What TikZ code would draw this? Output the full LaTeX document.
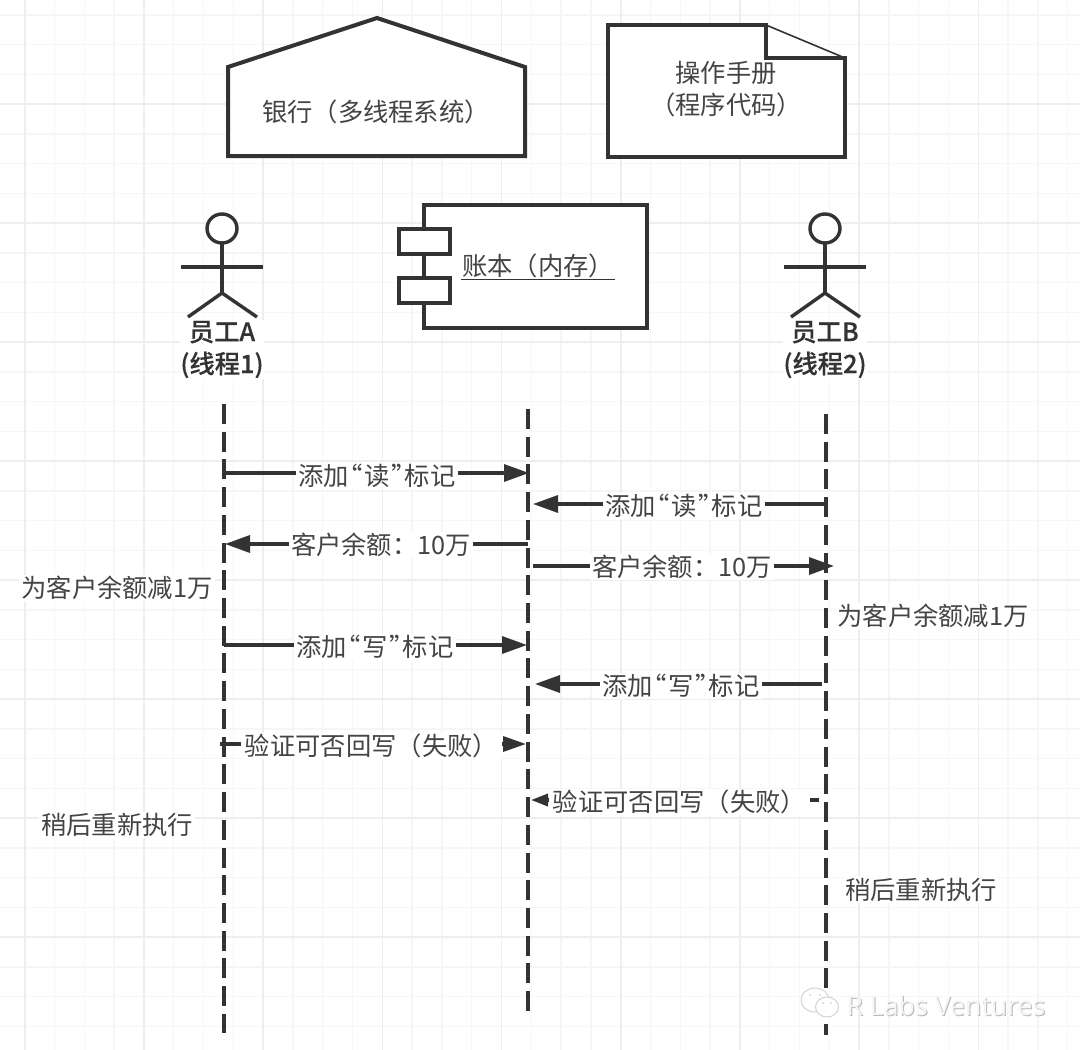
\documentclass[tikz,border=0pt]{standalone}
\usepackage{fontspec}
\usepackage{tikz}
\usetikzlibrary{arrows.meta, positioning}
\setmainfont{Noto Sans CJK SC}
\newfontfamily\medfont{Noto Sans CJK SC}[UprightFont=* Medium, FakeBold=0.4]
\newfontfamily\wmfont{Open Sans}
\newcommand{\quoted}[1]{\kern-.47em“\kern.07em#1\kern.07em”\kern-.47em}
\definecolor{ink}{RGB}{51,51,51}
\definecolor{txt}{RGB}{68,68,68}
\definecolor{gridmin}{RGB}{246,246,246}
\definecolor{gridmaj}{RGB}{238,238,238}
\tikzset{
  box/.style={draw=ink, line width=1mm, fill=white, line join=miter},
  limb/.style={draw=ink, line width=0.85mm},
  % linha de vida tracejada
  lane/.style={draw=ink, line width=1mm, dash pattern=on 5mm off 1.93mm},
  ar/.style={draw=ink, line width=0.85mm, -{Triangle[length=6.25mm, width=4.25mm]}},
  ar mid/.style={draw=ink, line width=0.85mm, -{Triangle[length=5.75mm, width=3.75mm]}},
  ar small/.style={draw=ink, line width=0.85mm, -{Triangle[length=4.25mm, width=3mm]}},
  lbl/.style={font=\fontsize{18}{22.8}\selectfont, text=txt, align=center, fill=white,
              inner xsep=0.6mm, inner ysep=0.3mm},
  actlbl/.style={lbl, font=\medfont\fontsize{18}{22.8}\selectfont, text=ink, inner xsep=0pt}
}
\begin{document}
\begin{tikzpicture}[x=0.25mm, y=-0.25mm]
  \useasboundingbox (0,0) rectangle (1080,1050);
  \foreach \i in {-3,...,35} {
    \draw[gridmin, line width=0.35mm] (24.7+29.8*\i,0) -- (24.7+29.8*\i,1050);
    \draw[gridmin, line width=0.35mm] (0,15+29.75*\i) -- (1080,15+29.75*\i);
  }
  \foreach \i in {0,...,8} \draw[gridmaj, line width=0.4mm] (24.7+119.2*\i,0) -- (24.7+119.2*\i,1050);
  \foreach \i in {0,...,7} \draw[gridmaj, line width=0.4mm] (0,104+119*\i) -- (1080,104+119*\i);

  \draw[box] (228,156) -- (525,156) -- (525,67) -- (377,18) -- (228,67) -- cycle;
  \node[lbl, fill=none] (bank) at (376,112) {银行（多线程系统）};

  \fill[white] (608,25) -- (766,25) -- (845,58) -- (845,157) -- (608,157) -- cycle;
  \draw[ink, line width=0.4mm] (766,25) -- (845,58);
  \draw[box, fill=none] (845,58) -- (845,157) -- (608,157) -- (608,25) -- (766,25) -- (766,58) -- cycle;
  \node[lbl, fill=none] (manual) at (726,89) {操作手册\\（程序代码）};

  \draw[box] (424,205) rectangle (647,328);
  \draw[box] (399,229) rectangle (450,254);
  \draw[box] (399,278) rectangle (450,303);
  \node[lbl, fill=none, inner xsep=0pt] (ledger) at (538,266) {账本（内存）};
  \draw[ink, line width=0.4mm] (461,279.5) -- (615,279.5);

  \foreach \name/\x/\lblA/\lblB in {actA/222/员工A/线程1, actB/825/员工B/线程2} {
    \draw[limb, fill=white] (\x,228.5) ellipse (15 and 14.5);
    \draw[limb] (\x,243) -- (\x,293);
    \draw[limb] (\x-41,267) -- (\x+41,267);
    \draw[limb] (\x-34,317) -- (\x,293) -- (\x+35,317);
    \node[actlbl] (\name) at (\x,349.5) {\lblA\\(\lblB)};
  }

  \coordinate (laneAt) at (223.5,404);
  \coordinate (laneAb) at (223.5,1033);
  \coordinate (laneMt) at (528,409);
  \coordinate (laneMb) at (528,1012);
  \coordinate (laneBt) at (826,414);
  \coordinate (laneBb) at (826,1035);
  \draw[lane] (laneAt) -- (laneAb);
  \draw[lane] (laneMt) -- (laneMb);
  \draw[lane] (laneBt) -- (laneBb);

  \draw[ar] (224,473) -- (529,473);
  \node[lbl] (msg1) at (377,476) {添加\quoted{读}标记};
  \draw[ar] (826,504) -- (533,504);
  \node[lbl] (msg2) at (684,506) {添加\quoted{读}标记};
  \draw[ar] (528,544) -- (225,544);
  \node[lbl] (msg3) at (381,545) {客户余额：10万};
  \draw[ar] (533,566) -- (834,566);
  \node[lbl] (msg4) at (682,567) {客户余额：10万};
  \draw[ar] (224,645) -- (527,645);
  \node[lbl] (msg5) at (375,647) {添加\quoted{写}标记};
  \draw[ar] (822,684) -- (535,684);
  \node[lbl] (msg6) at (681,686) {添加\quoted{写}标记};
  \draw[ar mid] (220,744) -- (526,744);
  \node[lbl, inner xsep=1mm] (msg7) at (371.5,746) {验证可否回写（失败）};
  \draw[ar small] (819,800) -- (531,800);
  \node[lbl, inner xsep=1mm] (msg8) at (679.5,802) {验证可否回写（失败）};

  \node[lbl] (noteA1) at (117,588) {为客户余额减1万};
  \node[lbl] (noteB1) at (933,616) {为客户余额减1万};
  \node[lbl] (noteA2) at (117,825) {稍后重新执行};
  \node[lbl] (noteB2) at (921,890) {稍后重新执行};

  \node[font=\wmfont\fontsize{19}{22}\selectfont, text=gray!55] (wmshadow) at (947,1006) {R Labs Ventures};
  \node[font=\wmfont\fontsize{19}{22}\selectfont, text=gray!8] (wm) at (946,1005) {R Labs Ventures};
  \draw[gray!35, line width=0.25mm, fill=white] (815,1000) ellipse (14 and 12);
  \draw[gray!35, line width=0.25mm, fill=white] (827,1007) ellipse (11.5 and 10);
  \fill[gray!35] (810,995) circle (1) (820,995) circle (1) (823,1003) circle (1) (831,1003) circle (1);
\end{tikzpicture}
\end{document}
